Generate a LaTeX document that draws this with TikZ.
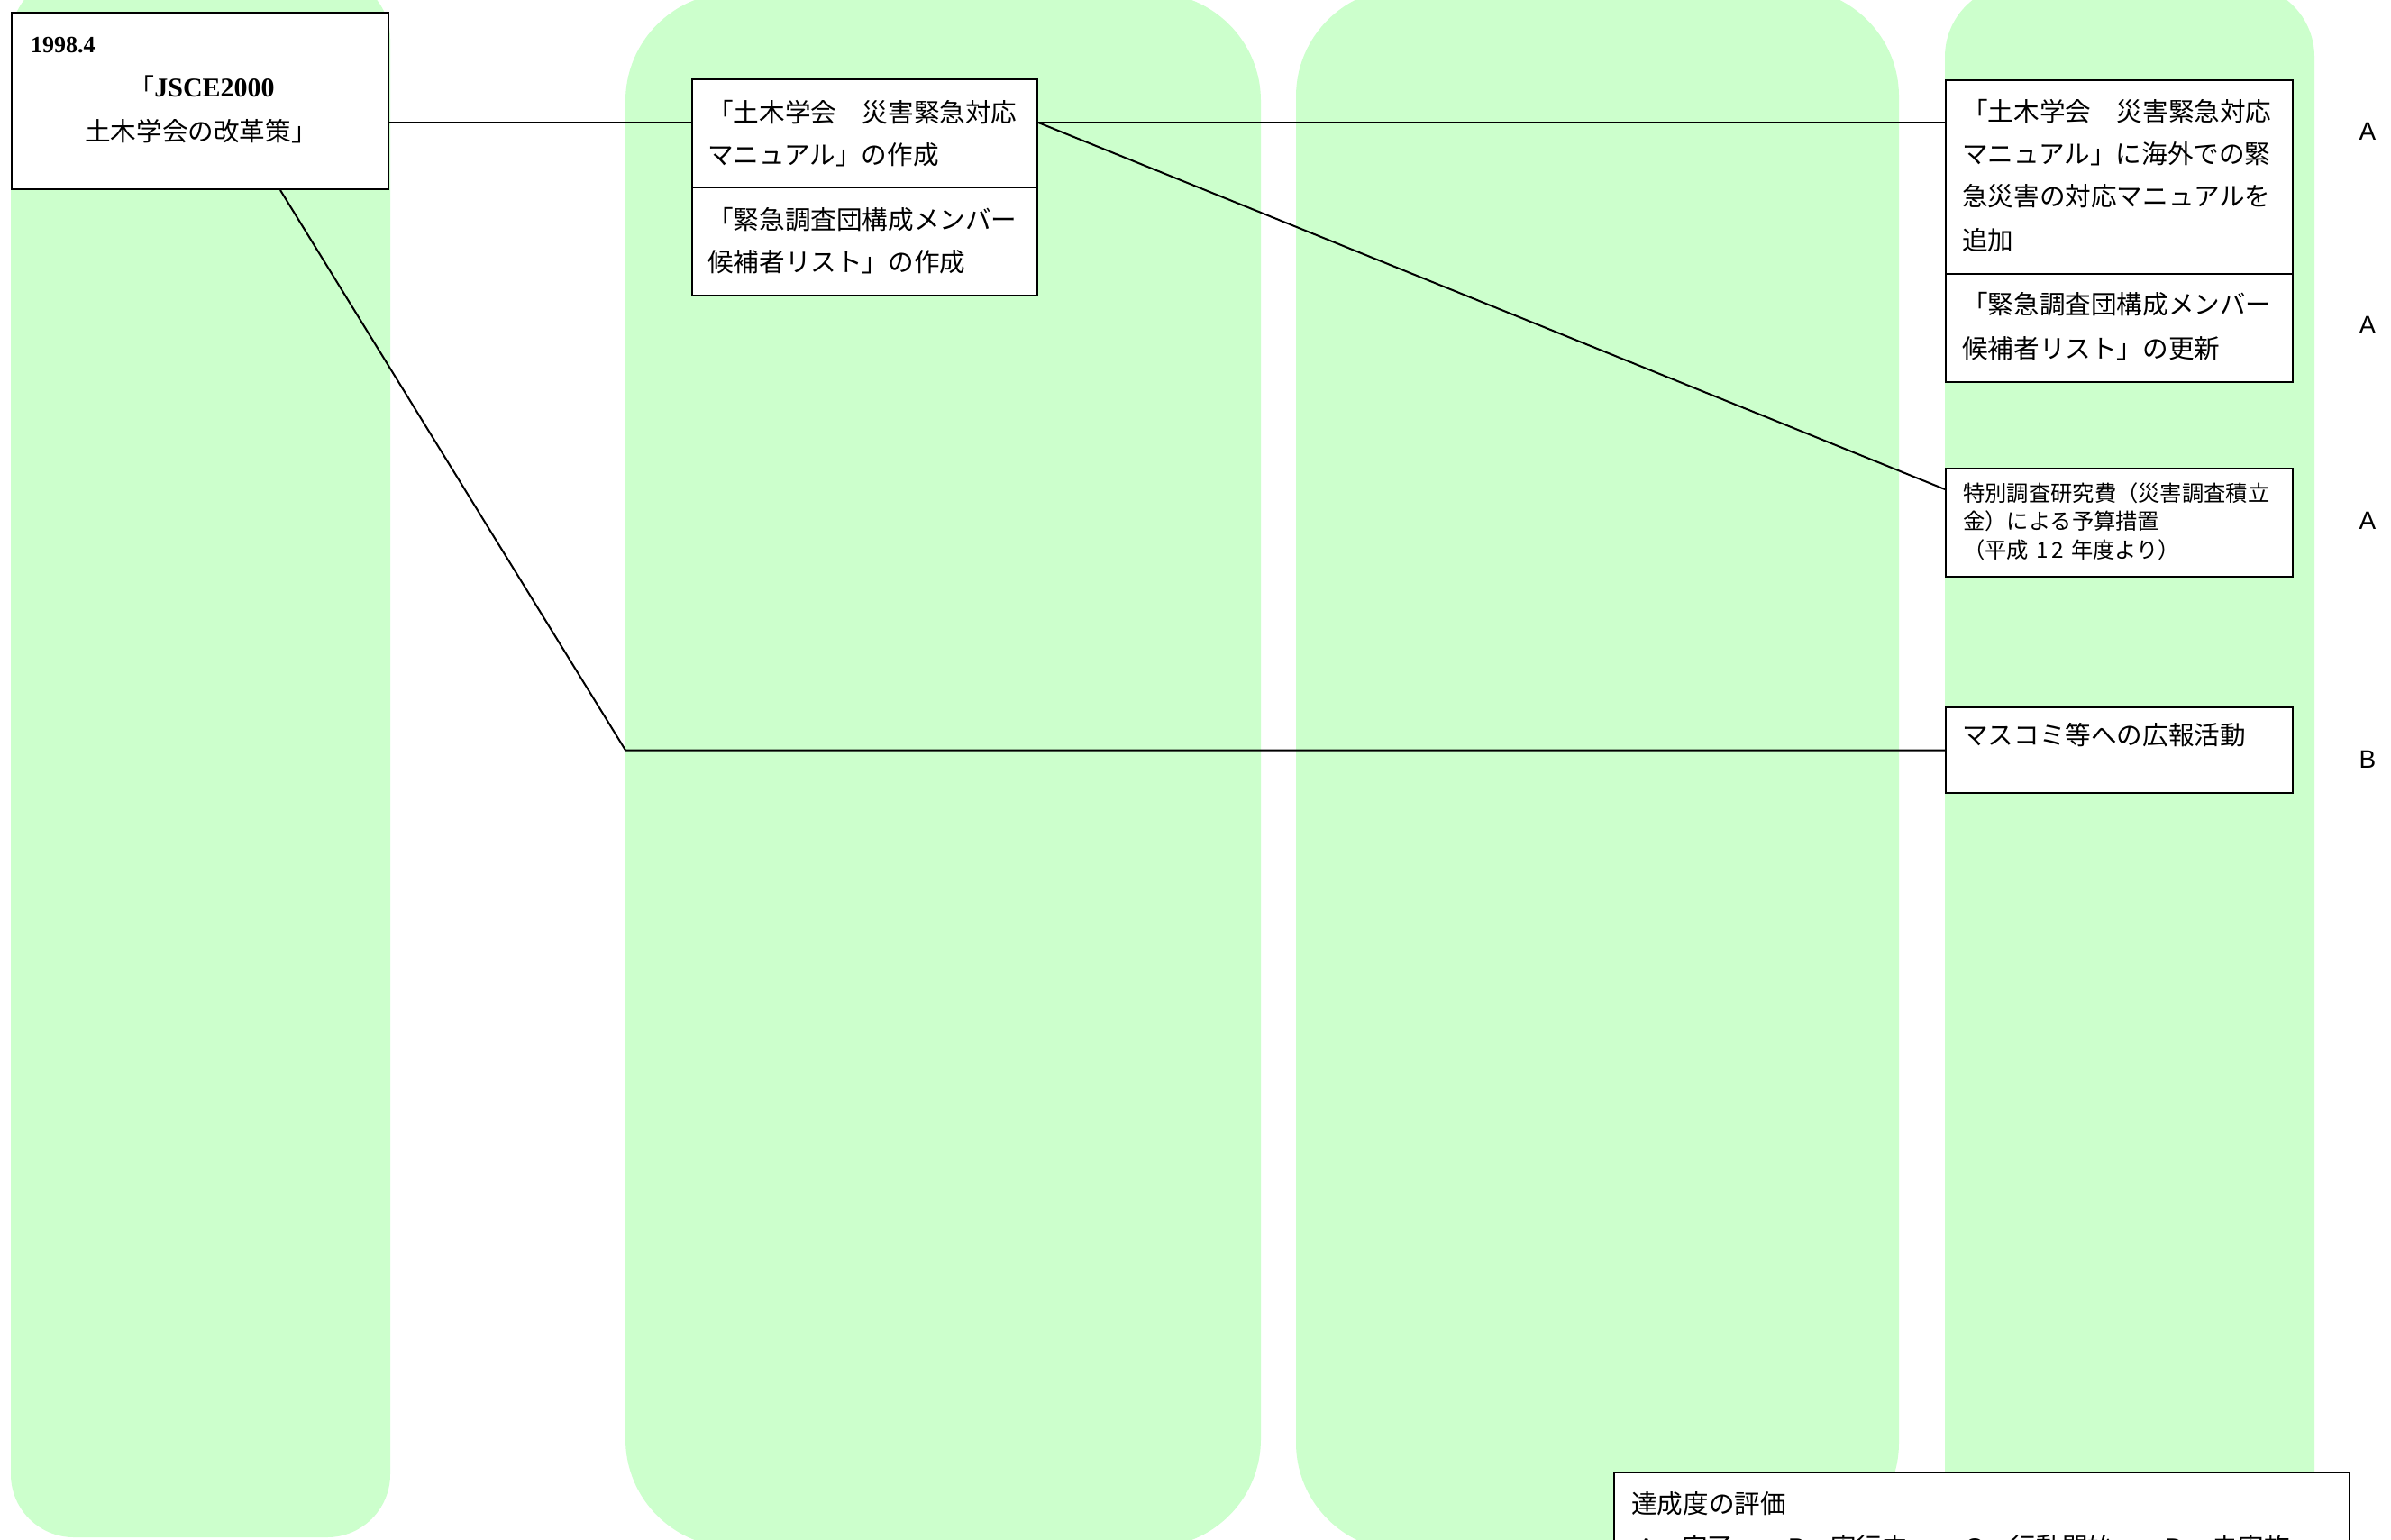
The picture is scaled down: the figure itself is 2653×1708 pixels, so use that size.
\documentclass[tikz,border=0pt]{standalone}
\usepackage{fontspec}
\newfontfamily\jp{Noto Sans CJK JP}
\newfontfamily\lsans{Liberation Sans}
\newfontfamily\lserif{Liberation Serif}
\definecolor{colgreen}{HTML}{CCFFCC}
\tikzset{
  column/.style={fill=colgreen},
  box/.style={draw=black, line width=2pt, fill=white, inner sep=0pt, anchor=north west},
  conn/.style={draw=black, line width=2pt},
  jtxt/.style={anchor=base west, inner sep=0pt, font=\jp\fontsize{28.6}{34}\selectfont},
  jsmall/.style={anchor=base west, inner sep=0pt, font=\jp\fontsize{24.3}{29}\selectfont},
  grade/.style={anchor=base, inner sep=0pt, font=\lsans\fontsize{28}{34}\selectfont},
}
\begin{document}
\begin{tikzpicture}[x=1pt,y=-1pt]
\useasboundingbox (0,0) rectangle (2653,1708);
\clip (0,0) rectangle (2653,1708);
\fill[white] (0,0) rectangle (2653,1708);
% columns
\fill[column, rounded corners=70pt] (12,-27) rectangle (433,1706);
\fill[column, rounded corners=120pt] (694,-8) rectangle (1399,1717);
\fill[column, rounded corners=120pt] (1438,-13) rectangle (2107,1721);
\fill[column, rounded corners=80pt] (2158,-17) rectangle (2568,1720);
% boxes
\node[box, minimum width=418pt, minimum height=196pt] (b1) at (12,13) {};
\node[box, minimum width=383pt, minimum height=120pt] (b2a) at (767,87) {};
\node[box, minimum width=383pt, minimum height=120pt] (b2b) at (767,207) {};
\node[box, minimum width=385pt, minimum height=215pt] (b4a) at (2158,88) {};
\node[box, minimum width=385pt, minimum height=120pt] (b4b) at (2158,303) {};
\node[box, minimum width=385pt, minimum height=120pt] (b4c) at (2158,519) {};
\node[box, minimum width=385pt, minimum height=95pt] (b4d) at (2158,784) {};
\coordinate (k) at (694,0);
% connectors
\draw[conn] ([yshift=-24pt]b1.east) -- ([yshift=12pt]b2a.west);
\draw[conn] ([yshift=12pt]b2a.east) -- ([yshift=60.5pt]b4a.west);
\draw[conn] ([yshift=12pt]b2a.east) -- ([yshift=37pt]b4c.west);
\draw[conn] ([xshift=89pt]b1.south) -- (k |- b4d.west) -- (b4d.west);
% box 1 text
\node[anchor=base west, inner sep=0pt, font=\lserif\bfseries\fontsize{26}{30}\selectfont] (t1a) at (34,58) {1998.4};
\node[anchor=base, inner sep=0pt] (t1b) at (224,107) {{\jp\fontsize{28}{34}\selectfont 「}{\lserif\bfseries\fontsize{30}{34}\selectfont JSCE2000}};
\node[anchor=base, inner sep=0pt, font=\jp\fontsize{28.6}{34}\selectfont] (t1c) at (223,156) {土木学会の改革策」};
% box 2 text
\node[jtxt] (t2a1) at (785,135) {「土木学会　災害緊急対応};
\node[jtxt] (t2a2) at (785,182) {マニュアル」の作成};
\node[jtxt] (t2b1) at (785,254) {「緊急調査団構成メンバー};
\node[jtxt] (t2b2) at (785,301) {候補者リスト」の作成};
% box 4 text
\node[jtxt] (t4a1) at (2177,134) {「土木学会　災害緊急対応};
\node[jtxt] (t4a2) at (2177,181) {マニュアル」に海外での緊};
\node[jtxt] (t4a3) at (2177,228) {急災害の対応マニュアルを};
\node[jtxt] (t4a4) at (2177,277) {追加};
\node[jtxt] (t4b1) at (2177,348) {「緊急調査団構成メンバー};
\node[jtxt] (t4b2) at (2177,397) {候補者リスト」の更新};
\node[jsmall] (t4c1) at (2178,556) {特別調査研究費（災害調査積立};
\node[jsmall] (t4c2) at (2178,587) {金）による予算措置};
\node[jsmall] (t4c3) at (2178,619) {（平成\hspace{8pt}1\kern4pt 2\hspace{8pt}年度より）};
\node[jtxt] (t4d1) at (2177,826) {マスコミ等への広報活動};
% grades
\node[grade] (g1) at (2627,155) {A};
\node[grade] (g2) at (2627,370) {A};
\node[grade] (g3) at (2627,587) {A};
\node[grade] (g4) at (2627,852) {B};
% legend
\node[box, minimum width=816pt, minimum height=140pt] (leg) at (1790,1633) {};
\node[jtxt] (lt) at (1810,1679) {達成度の評価};
\node[jtxt] (l1) at (1817,1727) {{\lsans A}\hspace{30pt}完了};
\node[jtxt] (l2) at (1984,1727) {{\lsans B}\hspace{28pt}実行中};
\node[jtxt] (l3) at (2180,1727) {{\lsans C}\hspace{30pt}行動開始};
\node[jtxt] (l4) at (2402,1727) {{\lsans D}\hspace{32pt}未実施};
\end{tikzpicture}
\end{document}
